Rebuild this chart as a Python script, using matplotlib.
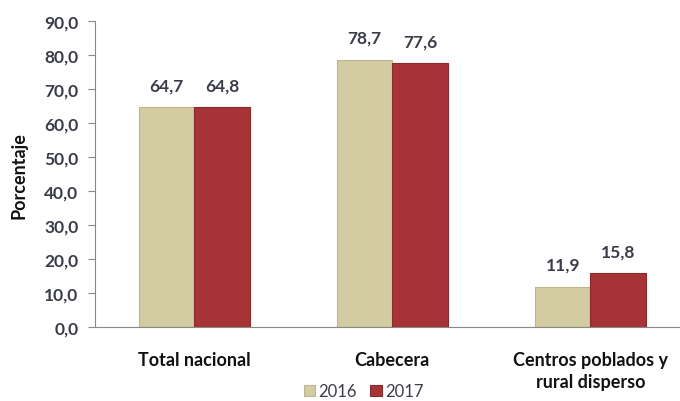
import matplotlib
matplotlib.use("Agg")
from matplotlib import pyplot as plt
import numpy as np

plt.rcParams['font.family'] = ['Lato', 'DejaVu Sans']

categorias = ["Total nacional", "Cabecera", "Centros poblados y\nrural disperso"]
anios = ["2016", "2017"]
v2016 = [64.7, 78.7, 11.9]
v2017 = [64.8, 77.6, 15.8]
yticks = np.arange(0, 91, 10)

fig = plt.figure(figsize=(6.8, 4.02), dpi=100)
ax = fig.add_axes([0.14, 0.184, 0.874, 0.761])

x = np.arange(len(categorias))
w = 0.28
b1 = ax.bar(x - w / 2, v2016, w, color="#D3CCA2", edgecolor="#BDB68C", linewidth=0.8, label=anios[0])
b2 = ax.bar(x + w / 2, v2017, w, color="#A63436", edgecolor="#8A2A2C", linewidth=0.8, label=anios[1])

for bars, vals in ((b1, v2016), (b2, v2017)):
    for r, v in zip(bars, vals):
        ax.text(r.get_x() + r.get_width() / 2, v + 4, f"{v:.1f}".replace(".", ","),
                ha="center", va="bottom", fontsize=12.5, fontweight="bold", color="#3A3D48")

ax.set_xlim(-0.5, 2.5)
ax.set_ylim(0, 90)
ax.set_yticks(yticks)
ax.set_yticklabels([f"{t:.1f}".replace(".", ",") for t in yticks], fontsize=12.5,
                   fontweight="bold", color="#3A3D48")
ax.set_xticks(x)
ax.set_xticklabels(categorias, fontsize=13, fontweight="bold", color="#111111", linespacing=1.35)
ax.tick_params(axis="x", length=0, pad=17)
ax.tick_params(axis="y", length=5, color="#888888", pad=7)
ax.set_ylabel("Porcentaje", fontsize=13, fontweight="bold", color="#111111", labelpad=12)

for s in ("top", "right"):
    ax.spines[s].set_visible(False)
for s in ("left", "bottom"):
    ax.spines[s].set_color("#888888")

fig.legend(loc="center", bbox_to_anchor=(0.535, 0.024), ncol=2, frameon=False,
           fontsize=12, handlelength=0.7, handleheight=0.7, handletextpad=0.2,
           columnspacing=0.8, labelcolor="#3A3D48", borderpad=0.1)

fig.savefig("out.png", dpi=100)
